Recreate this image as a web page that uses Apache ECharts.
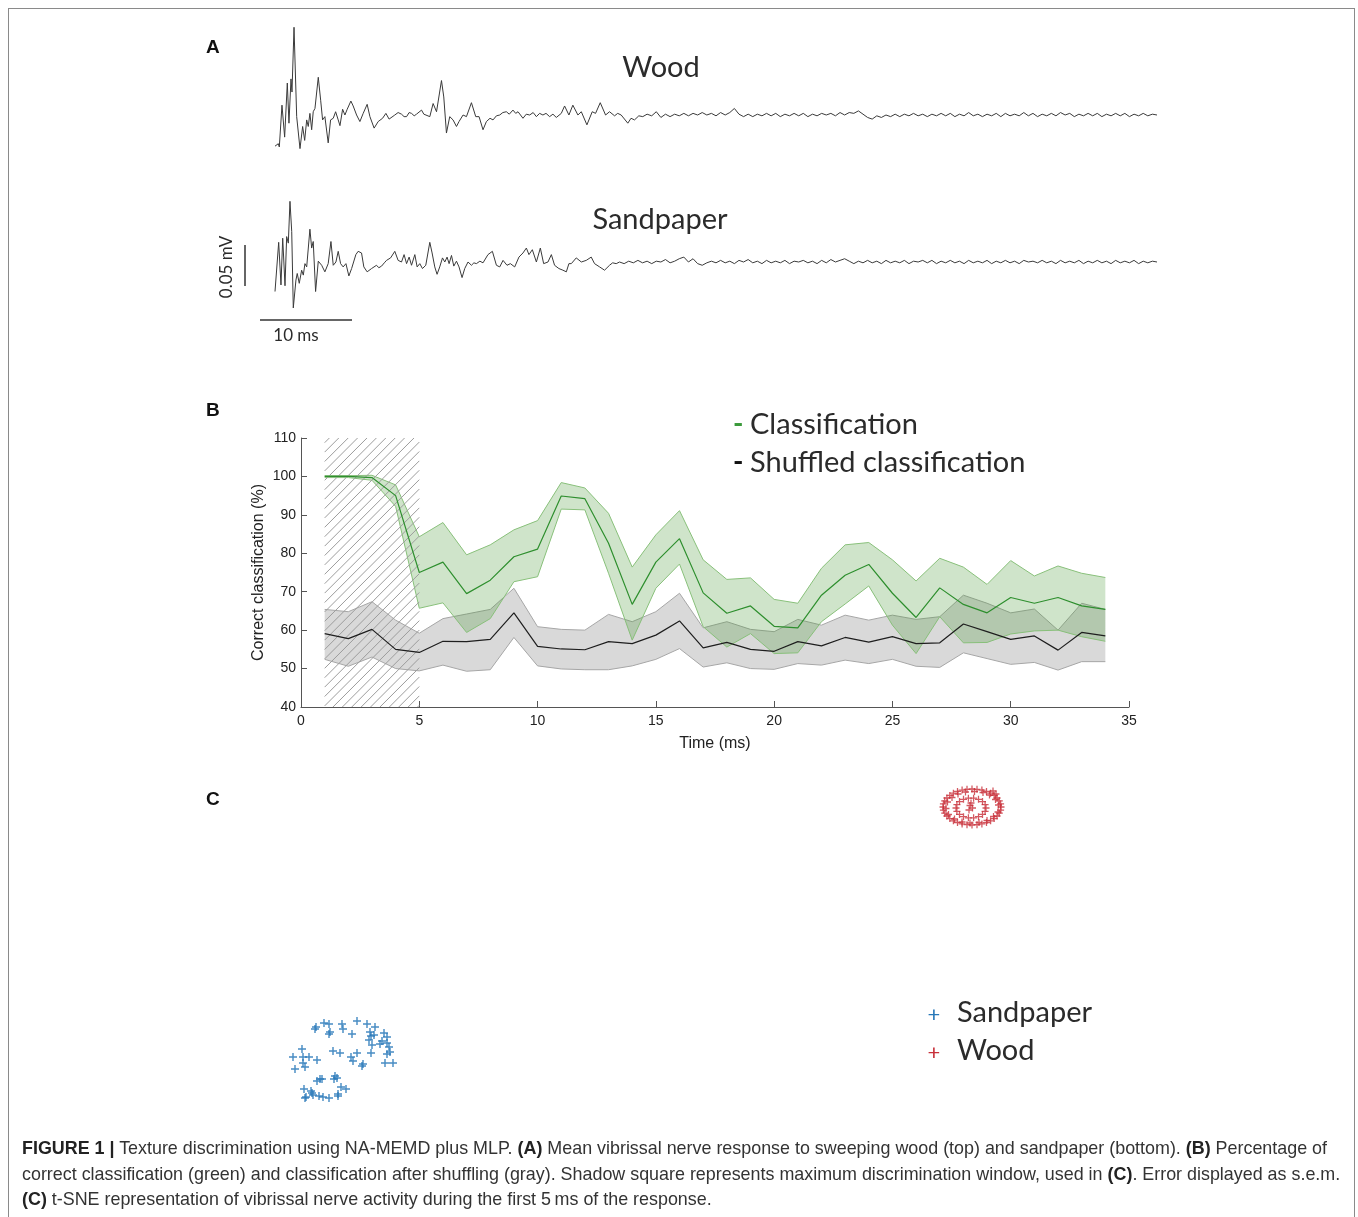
<!DOCTYPE html>
<html lang="en">
<head>
  <meta charset="UTF-8">
  <title>Texture discrimination using NA-MEMD plus MLP</title>
  <script src="https://cdn.jsdelivr.net/npm/echarts@6.0.0/dist/echarts.min.js"></script>
  <style>
    html, body { margin: 0; padding: 0; background: #fff; }
    #frame {
      position: absolute; left: 8px; top: 8px; width: 1347px; height: 1230px;
      border: 1px solid #8a8a8a; box-sizing: border-box;
    }
    #chart { position: absolute; left: 0; top: 0; width: 1358px; height: 1217px; }
    #caption {
      position: absolute; left: 22px; top: 1136px; width: 1330px;
      font-family: "Liberation Sans", sans-serif;
      font-size: 17.9px; line-height: 25.5px; color: #333; white-space: nowrap;
    }
    #caption b { color: #222; }
  </style>
</head>
<body>
  <div id="frame"></div>
  <div id="chart"></div>
  <div id="caption">
    <b>FIGURE 1 |</b> Texture discrimination using NA-MEMD plus MLP. <b>(A)</b> Mean vibrissal nerve response to sweeping wood (top) and sandpaper (bottom). <b>(B)</b> Percentage of<br>
    correct classification (green) and classification after shuffling (gray). Shadow square represents maximum discrimination window, used in <b>(C)</b>. Error displayed as s.e.m.<br>
    <b>(C)</b> t-SNE representation of vibrissal nerve activity during the first 5&#8201;ms of the response.
  </div>
  <script>
    // ---- panel A: mean nerve response, [time ms, voltage uV] ----
    const woodEarly = [
      [0, -38], [0.36, -35], [0.47, -39], [0.76, 12], [1.05, -27], [1.34, 39], [1.52, -10], [1.74, 44],
      [1.85, 28], [2.07, 107], [2.36, -2], [2.72, -41], [3.01, -14], [3.23, -31], [3.45, -6], [3.62, -14],
      [3.8, 2], [3.99, -18], [4.16, 4], [4.35, 8], [4.71, 46], [4.97, 18], [5.18, -6], [5.43, -2],
      [5.79, -34], [6.05, -6], [6.34, -4], [6.6, 4], [6.88, -6], [7.07, -13], [7.36, 7], [7.61, 0],
      [7.86, 7], [8.26, 17], [8.51, 11], [8.88, 0], [9.24, -8], [9.6, 2], [10.03, 13], [10.33, -2],
      [10.79, -16], [11.23, -8], [11.71, -4], [12.07, 2], [12.42, -5], [13.04, 0], [13.4, 3], [13.77, 1],
      [14.05, -2], [14.32, -2], [14.6, 3], [14.86, 2], [15.15, -1], [15.4, 1], [15.95, 6], [16.2, 1],
      [16.41, 2], [16.85, -2], [17.21, 14], [17.58, 4], [18.12, 42], [18.37, 22], [18.66, -22], [19.02, -2],
      [19.38, -6], [19.75, -14], [20.03, -8], [20.47, 0], [20.84, -2], [21.38, 15], [21.85, -2], [22.21, -2],
      [22.64, -18], [23.01, -8], [23.4, -4], [23.73, -6], [24.1, -1], [24.46, 0], [24.8, 3], [25.18, 4],
      [25.5, 1], [25.9, 6], [26.2, 2], [26.45, 4], [26.99, -4], [27.35, 1], [27.72, 0], [28.1, 3],
      [28.45, -2], [28.8, 2], [29.16, 0], [29.5, 2], [29.89, -2], [30.25, 1], [30.62, -3], [31.16, 2],
      [31.52, 11], [31.99, 0], [32.42, 12], [32.97, 0], [33.34, 4], [33.95, -12], [34.53, 4], [34.89, 2],
      [35.4, 15], [35.98, 0], [36.41, 4], [36.96, -1], [37.3, 2], [37.68, 0], [38.4, -10], [38.75, -4],
      [39.13, -6], [39.6, -1], [40.03, -2]
    ];
    const woodTail = [
      1, -1, 4, -3, 1, -2, 1, -1, 2, -1,
      2, 0, 3, 0, 2, -1, 3, 0, 3, 8,
      1, -2, 1, -2, 1, -1, 2, -1, 2, -2,
      1, -1, 2, -1, 2, -2, 1, -1, 2, 0,
      2, -1, 3, 0, 3, 2, 5, 1, -3, -5,
      -1, -3, 0, -2, 1, -2, 1, -1, 2, -1,
      1, -2, 1, -1, 2, -1, 2, -2, 1, -1,
      3, -1, 1, -2, 1, -1, 2, -2, 2, -1,
      1, -1, 3, -1, 2, -2, 1, -1, 2, -1,
      3, 0, 2, -2, 1, -1, 2, -1, 2, -2,
      1, -1, 2, -1, 2, -2, 1, -1, 2, -1,
      1, 0
    ];
    const woodTailStart = 40.5;

    const sandEarly = [
      [0, -36], [0.18, -34], [0.4, 24], [0.65, -28], [0.84, 29], [1.09, -29], [1.27, 31], [1.45, 23],
      [1.63, 74], [1.82, 37], [1.99, -56], [2.28, -22], [2.42, -14], [2.64, -26], [2.9, -10], [3.08, -16],
      [3.26, -2], [3.45, -6], [3.8, 40], [3.99, 17], [4.16, 25], [4.42, -36], [4.71, 1], [5.08, -4],
      [5.43, -12], [5.79, -2], [6.09, 25], [6.34, -4], [6.63, 0], [6.88, 13], [7.14, -2], [7.42, -6],
      [7.72, -2], [8.04, -17], [8.34, -8], [8.8, 9], [9.05, 13], [9.42, 11], [9.67, -6], [10.03, -12],
      [10.51, -8], [11.05, -4], [11.3, -7], [11.6, -5], [11.9, -1], [12.14, 2], [12.58, 5], [13.04, 13],
      [13.4, 2], [13.77, 0], [14.05, 9], [14.32, -2], [14.6, 6], [14.86, -4], [15.22, 9], [15.47, -6],
      [15.76, -2], [16.05, -8], [16.41, -4], [16.85, 24], [17.1, 11], [17.39, -6], [17.64, -15], [17.93, -6],
      [18.23, 5], [18.48, 0], [18.73, 6], [18.95, -2], [19.21, 8], [19.46, -5], [19.75, 1], [20.03, -6],
      [20.36, -19], [20.65, -8], [21.01, 0], [21.38, -4], [21.65, -1], [21.92, -2], [22.3, 1], [22.64, -1],
      [23.18, 9], [23.66, 13], [24.1, -4], [24.46, -6], [24.82, 2], [25.25, -4], [25.62, -2], [26.09, -6],
      [26.55, 6], [26.99, 11], [27.36, 17], [27.64, 9], [28.01, 15], [28.45, 0], [28.88, 17], [29.24, -2],
      [29.71, 0], [30.08, 9], [30.43, -4], [30.9, -8], [31.34, -10], [31.71, -12], [31.99, -2], [32.25, -2],
      [32.79, 5], [33.34, 0], [33.88, 2], [34.42, 6], [34.78, -2], [35.33, -6], [35.87, -10], [36.41, -4],
      [36.75, -1], [37.14, -2]
    ];
    const sandTail = [
      0, -2, 1, -1, 2, -1, 1, -2, 1, 0,
      3, -1, 1, 4, 6, 0, 4, -2, -4, -1,
      1, -1, 2, -1, 1, -2, 2, 0, 3, -1,
      1, -2, 2, -1, 1, -1, 2, -2, 1, 0,
      2, -1, 1, -2, 2, -1, 3, 0, 2, 4,
      1, -2, 1, -1, 2, -1, 1, -2, 2, -1,
      1, -1, 2, -2, 1, 0, 2, -1, 2, -2,
      1, -1, 2, -1, 1, -2, 2, -1, 1, -1,
      2, -2, 1, -1, 2, -1, 1, -2, 2, 0,
      1, -1, 2, -1, 1, -2, 2, -1, 1, -1,
      2, -2, 1, -1, 2, -1, 1, -2, 2, -1,
      1, -1, 2, -2, 1, -1, 1, 0
    ];
    const sandTailStart = 37.5;
    const tailStep = 0.5;

    // ---- panel B: correct classification (%) per time window ----
    const timeMs = [1, 2, 3, 4, 5, 6, 7, 8, 9, 10, 11, 12, 13, 14, 15, 16, 17,
      18, 19, 20, 21, 22, 23, 24, 25, 26, 27, 28, 29, 30, 31, 32, 33, 34];
    const greenMean = [100, 100, 99.7, 95, 75, 77.7, 69.5, 73, 79.1, 81.1, 94.9, 94.2, 82.6, 66.7, 77.7, 83.8, 69.7,
      64.4, 66.3, 61, 60.6, 69.1, 74.3, 77.1, 69.6, 63.3, 71, 66.7, 64.5, 68.5, 67, 68.5, 66.3, 65.4];
    const greenUpper = [100.2, 100.2, 100.3, 97.8, 84.3, 88, 79.6, 82.2, 86.1, 88.5, 98.4, 97, 90.4, 76.4, 84.8, 91.1, 78.3,
      73.2, 73.6, 68, 67, 76.1, 82.2, 82.8, 78.3, 72.8, 78.7, 76.4, 71.9, 78.1, 74.1, 76.7, 74.8, 73.7];
    const greenLower = [99.7, 99.7, 99, 92.2, 65.7, 67.1, 59.4, 63, 72.6, 73.9, 91.5, 91.3, 74.8, 57.4, 70.9, 77.2, 60.9,
      55.6, 59.1, 53.9, 54.1, 62.2, 66.8, 71.5, 61.3, 53.9, 63.5, 56.7, 56.8, 59, 59.8, 60, 58.3, 57.1];
    const grayMean = [59.1, 57.8, 60.2, 55, 54.2, 57.1, 57, 57.6, 64.5, 55.8, 55.1, 54.9, 57, 56.5, 58.7, 62.4, 55.4,
      56.8, 55, 54.5, 57, 55.9, 58.1, 56.9, 58.3, 56.5, 56.7, 61.6, 59.6, 57.6, 58.5, 54.8, 59.4, 58.5];
    const grayUpper = [65.4, 64.8, 67.4, 62.6, 59.2, 63, 64.2, 65.4, 70.9, 60.9, 60.2, 60, 64.1, 62.2, 64.8, 69.6, 60.6,
      62.2, 60.2, 59.6, 62.8, 61.3, 63.9, 62.6, 63.9, 62.8, 63.5, 69.1, 67, 64.5, 65.5, 60, 67, 65.4];
    const grayLower = [52.4, 50.6, 53, 50, 49.4, 50.9, 49.3, 49.7, 58.1, 50.7, 49.9, 49.7, 49.7, 50.7, 52.4, 55.2, 50.4,
      51.5, 50, 49.8, 51.3, 50.9, 52.2, 51.3, 52.4, 50.6, 50.3, 54.1, 52.6, 51.1, 51.6, 49.6, 51.8, 51.8];
    const windowStart = 1, windowEnd = 5;

    // ---- panel C: t-SNE embedding ----
    const sandpaperTsne = [
      [-34.4, -7.7], [-33.6, -7.3], [-33.1, -7.4], [-31.8, -7.4], [-31.7, -7.9], [-30.3, -7.1], [-29.3, -7.4],
      [-28.5, -7.7], [-33.1, -8.4], [-30.8, -8.4], [-27.6, -8.3], [-28.9, -8.6], [-29.1, -9.0], [-28.6, -8.5],
      [-27.8, -9.1], [-27.3, -9.3], [-27.3, -8.7], [-28.8, -9.5], [-28.0, -9.4], [-27.1, -9.7], [-27.0, -10.2],
      [-27.3, -10.4], [-35.8, -9.9], [-32.7, -10.1], [-32.0, -10.3], [-30.3, -10.3], [-30.9, -10.7], [-30.7, -11.1],
      [-28.9, -10.3], [-36.7, -10.7], [-35.7, -10.7], [-35.1, -10.7], [-34.3, -11.0], [-35.7, -11.3], [-35.5, -11.7],
      [-36.5, -11.9], [-29.7, -11.4], [-29.8, -11.6], [-27.5, -11.3], [-26.7, -11.3], [-34.0, -12.9], [-34.3, -13.1],
      [-33.8, -12.9], [-32.5, -12.6], [-32.3, -12.8], [-32.6, -12.9], [-35.6, -13.9], [-34.9, -14.1], [-34.8, -14.3],
      [-31.9, -13.7], [-31.4, -13.9], [-35.4, -14.7], [-35.5, -14.8], [-34.7, -14.5], [-34.1, -14.6], [-33.7, -14.7],
      [-33.1, -14.8], [-32.2, -14.6], [-32.2, -14.4], [-34.5, -7.9], [-33.0, -8.2], [-29.0, -8.2]
    ];
    const woodTsne = [
      [34.1, 14.3], [34.06, 14.61], [33.93, 14.92], [33.71, 15.2], [33.42, 15.46], [33.06, 15.68], [32.65, 15.86],
      [32.19, 15.99], [31.7, 16.07], [31.2, 16.1], [30.7, 16.07], [30.21, 15.99], [29.75, 15.86], [29.34, 15.68],
      [28.98, 15.46], [28.69, 15.2], [28.47, 14.92], [28.34, 14.61], [28.3, 14.3], [28.34, 13.99], [28.47, 13.68],
      [28.69, 13.4], [28.98, 13.14], [29.34, 12.92], [29.75, 12.74], [30.21, 12.61], [30.7, 12.53], [31.2, 12.5],
      [31.7, 12.53], [32.19, 12.61], [32.65, 12.74], [33.06, 12.92], [33.42, 13.14], [33.71, 13.4], [33.93, 13.68],
      [34.06, 13.99],
      [33.85, 14.5], [33.55, 15.05], [32.95, 15.5], [32.3, 15.75], [31.45, 15.85], [30.55, 15.8], [29.8, 15.6],
      [29.2, 15.25], [28.75, 14.8], [28.6, 14.15], [28.85, 13.55], [29.45, 13.1], [30.2, 12.8], [31.0, 12.7],
      [31.9, 12.75], [32.7, 12.95], [33.35, 13.35], [33.8, 13.8], [33.3, 15.9], [33.6, 15.6],
      [32.6, 14.2], [32.51, 14.54], [32.25, 14.84], [31.85, 15.07], [31.36, 15.18], [30.84, 15.18], [30.35, 15.07],
      [29.95, 14.84], [29.69, 14.54], [29.6, 14.2], [29.69, 13.86], [29.95, 13.56], [30.35, 13.33], [30.84, 13.22],
      [31.36, 13.22], [31.85, 13.33], [32.25, 13.56], [32.51, 13.86],
      [31.0, 14.45], [30.9, 14.0], [31.25, 14.2], [31.1, 14.7]
    ];

    const chart = echarts.init(document.getElementById('chart'));

    const woodData = woodEarly.concat(woodTail.map((v, i) => [woodTailStart + i * tailStep, v]));
    const sandData = sandEarly.concat(sandTail.map((v, i) => [sandTailStart + i * tailStep, v]));
    const pairs = (ys) => timeMs.map((t, i) => [t, ys[i]]);

    // error band drawn as one polygon between upper and lower bounds
    function band(name, upper, lower, fill, z) {
      return {
        name: name, type: 'custom', xAxisIndex: 2, yAxisIndex: 2, z: z, silent: true,
        data: [[timeMs[0], lower[0]]],
        renderItem: function (params, api) {
          const top = timeMs.map((t, i) => api.coord([t, upper[i]]));
          const bottom = timeMs.map((t, i) => api.coord([t, lower[i]])).reverse();
          return { type: 'polygon', shape: { points: top.concat(bottom) }, style: { fill: fill } };
        }
      };
    }

    function edge(name, ys, color, z) {
      return {
        name: name, type: 'line', xAxisIndex: 2, yAxisIndex: 2, data: pairs(ys), z: z,
        showSymbol: false, silent: true, lineStyle: { color: color, width: 1 }
      };
    }

    // hatched box over the discrimination window, diagonal "/" strokes
    function hatch() {
      return {
        name: 'window', type: 'custom', xAxisIndex: 2, yAxisIndex: 2, z: 4, silent: true,
        data: [[windowStart, 40]],
        renderItem: function (params, api) {
          const a = api.coord([windowStart, 110]);
          const b = api.coord([windowEnd, 40]);
          const gap = 9.4;
          const lines = [];
          for (let c = a[0] + a[1] + gap / 2; c < b[0] + b[1]; c += gap) {
            const xa = Math.max(a[0], c - b[1]);
            const xb = Math.min(b[0], c - a[1]);
            if (xb <= xa) continue;
            lines.push({
              type: 'line', shape: { x1: xa, y1: c - xa, x2: xb, y2: c - xb },
              style: { stroke: '#9c9c9c', lineWidth: 1 }
            });
          }
          return { type: 'group', children: lines };
        }
      };
    }

    const calib = 'Lato, "Open Sans", sans-serif';
    const arial = '"Liberation Sans", Arial, sans-serif';
    const plusPath = 'path://M-0.9,-5H0.9V-0.9H5V0.9H0.9V5H-0.9V0.9H-5V-0.9H-0.9Z';
    const hidden = { show: false };

    function txt(x, y, text, font, fill, align, extra) {
      return Object.assign({
        type: 'text', x: x, y: y, silent: true,
        style: { text: text, font: font, fill: fill || '#222', align: align || 'left', verticalAlign: 'middle' }
      }, extra || {});
    }

    chart.setOption({
      animation: false,
      grid: [
        { left: 275, top: 16.6, width: 882, height: 139.4 },
        { left: 275, top: 188.2, width: 882, height: 131.2 },
        { left: 301, top: 438, width: 828, height: 269 },
        { left: 230, top: 770, width: 860, height: 350 }
      ],
      xAxis: [
        { gridIndex: 0, type: 'value', min: 0, max: 96, show: false },
        { gridIndex: 1, type: 'value', min: 0, max: 96, show: false },
        {
          gridIndex: 2, type: 'value', min: 0, max: 35, interval: 5,
          name: 'Time (ms)', nameLocation: 'middle', nameGap: 29,
          nameTextStyle: { fontFamily: arial, fontSize: 16, color: '#222' },
          axisLine: { lineStyle: { color: '#555', width: 1 } },
          axisTick: { inside: true, length: 6, lineStyle: { color: '#555' } },
          axisLabel: { fontFamily: arial, fontSize: 14, color: '#222', margin: 7 },
          splitLine: hidden
        },
        { gridIndex: 3, type: 'value', min: -43, max: 43, show: false }
      ],
      yAxis: [
        { gridIndex: 0, type: 'value', min: -50, max: 120, show: false },
        { gridIndex: 1, type: 'value', min: -70, max: 90, show: false },
        {
          gridIndex: 2, type: 'value', min: 40, max: 110, interval: 10,
          name: 'Correct classification (%)', nameLocation: 'middle', nameGap: 34, nameRotate: 90,
          nameMoveOverlap: false,
          nameTextStyle: { fontFamily: arial, fontSize: 16, color: '#222' },
          axisLine: { show: true, lineStyle: { color: '#555', width: 1 } },
          axisTick: { show: true, inside: true, length: 6, lineStyle: { color: '#555' } },
          axisLabel: { fontFamily: arial, fontSize: 14, color: '#222', margin: 5 },
          splitLine: hidden
        },
        { gridIndex: 3, type: 'value', min: -17, max: 18, show: false }
      ],
      graphic: [
        txt(206, 48, 'A', 'bold 19px ' + arial, '#111'),
        txt(206, 411, 'B', 'bold 19px ' + arial, '#111'),
        txt(206, 800, 'C', 'bold 19px ' + arial, '#111'),
        txt(661, 68, 'Wood', '29px ' + calib, '#2b2b2b', 'center'),
        txt(660, 220, 'Sandpaper', '29px ' + calib, '#2b2b2b', 'center'),
        txt(227, 267, '0.05 mV', '17px ' + calib, '#2b2b2b', 'center', { rotation: Math.PI / 2 }),
        txt(296, 336, '10 ms', '17px ' + calib, '#2b2b2b', 'center'),
        { type: 'line', silent: true, shape: { x1: 245, y1: 245, x2: 245, y2: 286 }, style: { stroke: '#333', lineWidth: 1.5 } },
        { type: 'line', silent: true, shape: { x1: 260, y1: 320, x2: 352, y2: 320 }, style: { stroke: '#333', lineWidth: 1.5 } },
        txt(733, 424, '-', 'bold 28px ' + calib, '#3a9a3a'),
        txt(750, 425, 'Classification', '29px ' + calib, '#2b2b2b'),
        txt(733, 462, '-', 'bold 28px ' + calib, '#111'),
        txt(750, 463, 'Shuffled classification', '29px ' + calib, '#2b2b2b'),
        txt(934, 1015, '+', '22px ' + calib, '#2878b8', 'center'),
        txt(957, 1013, 'Sandpaper', '29px ' + calib, '#2b2b2b'),
        txt(934, 1053, '+', '22px ' + calib, '#c8303a', 'center'),
        txt(957, 1051, 'Wood', '29px ' + calib, '#2b2b2b')
      ],
      series: [
        {
          name: 'Wood', type: 'line', xAxisIndex: 0, yAxisIndex: 0, data: woodData,
          showSymbol: false, lineStyle: { color: '#3a3a3a', width: 1 }
        },
        {
          name: 'Sandpaper', type: 'line', xAxisIndex: 1, yAxisIndex: 1, data: sandData,
          showSymbol: false, lineStyle: { color: '#3a3a3a', width: 1 }
        },
        band('shuffled s.e.m.', grayUpper, grayLower, '#d9d9d9', 2),
        edge('shuffled upper', grayUpper, '#a6a6a6', 2),
        edge('shuffled lower', grayLower, '#a6a6a6', 2),
        band('classification s.e.m.', greenUpper, greenLower, 'rgba(70,150,50,0.26)', 3),
        edge('classification upper', greenUpper, '#88c07a', 3),
        edge('classification lower', greenLower, '#88c07a', 3),
        hatch(),
        {
          name: 'Shuffled classification', type: 'line', xAxisIndex: 2, yAxisIndex: 2,
          data: pairs(grayMean), showSymbol: false, z: 5,
          lineStyle: { color: '#1e1e1e', width: 1.2 }
        },
        {
          name: 'Classification', type: 'line', xAxisIndex: 2, yAxisIndex: 2,
          data: pairs(greenMean), showSymbol: false, z: 5,
          lineStyle: { color: '#2e8f2e', width: 1.2 }
        },
        {
          name: 'Sandpaper t-SNE', type: 'scatter', xAxisIndex: 3, yAxisIndex: 3, data: sandpaperTsne,
          symbol: plusPath, symbolSize: 8, itemStyle: { color: '#2878b8', opacity: 0.85 }
        },
        {
          name: 'Wood t-SNE', type: 'scatter', xAxisIndex: 3, yAxisIndex: 3, data: woodTsne,
          symbol: plusPath, symbolSize: 7, itemStyle: { color: '#c8303a', opacity: 0.8 }
        }
      ]
    });
  </script>
</body>
</html>
